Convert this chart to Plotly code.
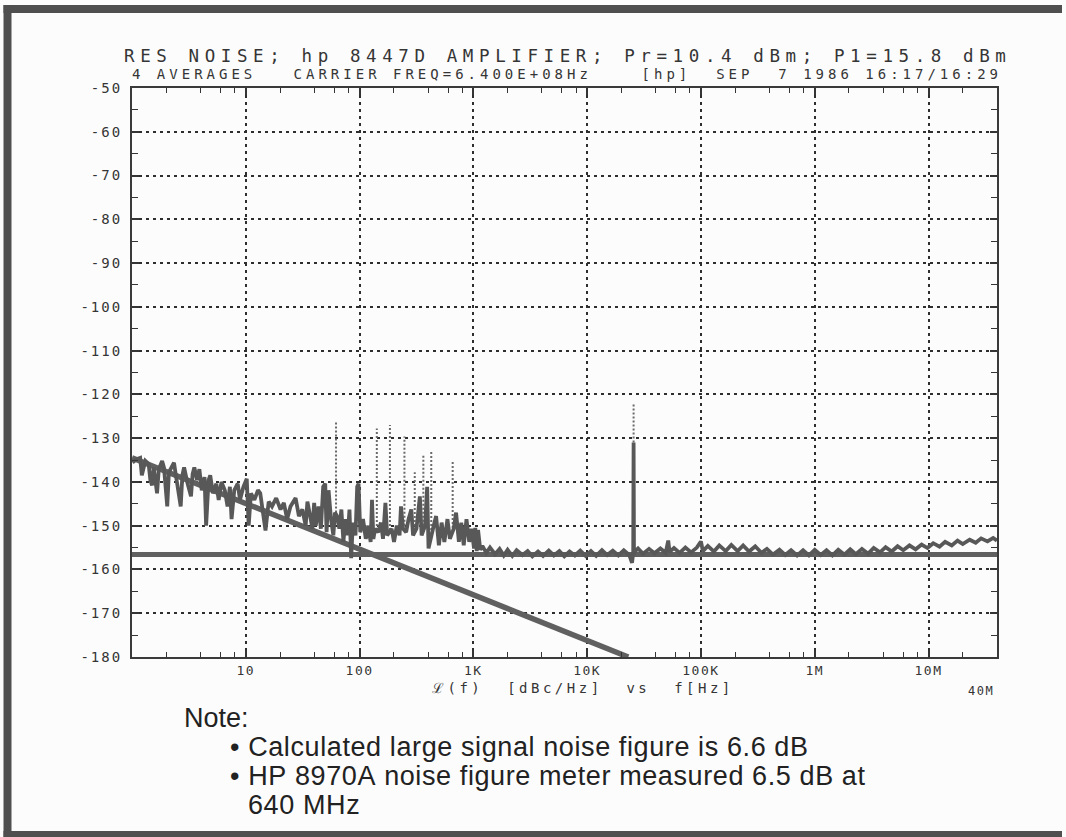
import plotly.graph_objects as go

# ---------------- data ----------------
# measured residual noise trace, L(f) in dBc/Hz vs offset frequency in Hz
noise_freq = [
    1.01, 1.10, 1.18, 1.22, 1.31, 1.40, 1.45, 1.50, 1.55, 1.66, 1.72, 1.84, 1.91, 2.04, 2.11,
    2.26, 2.34, 2.42, 2.59, 2.68, 2.77, 2.87, 3.08, 3.30, 3.41, 3.53, 3.73, 3.91, 4.10, 4.34,
    4.48, 4.71, 4.87, 5.14, 5.51, 5.78, 6.11, 6.54, 6.91, 7.25, 7.50, 7.92, 8.49, 8.90, 9.53,
    10.2, 10.6, 11.1, 11.9, 12.8, 13.4, 14.1, 14.9, 15.9, 17.0, 18.5, 20.2, 21.6, 23.1, 24.7,
    27.4, 29.3, 31.4, 33.6, 34.8, 37.2, 38.5,
    39.9, 41.2, 43.6, 45.7, 47.9, 49.9, 51.3, 53.4, 56.1, 58.8, 60.8, 63.4, 66.4, 69.2, 72.1,
    75.1, 78.8, 81.5, 84.4, 87.3, 92.1, 95.3, 98.0, 101.4, 107.2, 113.4, 119.1, 125.1, 128.6,
    132.2, 136.9, 145.8, 154.1, 160.7, 168.7, 174.7, 191.4, 200.8, 212.4, 224.7, 231.1, 241.1,
    256.6, 269.4, 284.9, 295.1, 316.2, 338.8, 351, 376.5, 392.6, 403.6, 441.8, 470.5, 497.6,
    526, 556, 592, 622, 672, 705, 746, 783, 823, 870, 920, 966, 1014,
    1040, 1070, 1100, 1150, 1200, 1300, 1400, 1550, 1700, 1850, 2000, 2200, 2400, 2700, 3000,
    3300, 3700, 4100, 4600, 5100, 5700, 6300, 7000, 7800, 8700, 9700, 10800, 12000, 13500,
    15000, 16800, 18800, 21000, 23500, 24800, 25400, 25600, 25800, 26500, 28000, 31000, 35000,
    39000, 44000, 49000, 51600, 53000, 58000, 65000, 73000, 82000, 92000, 100000, 104000,
    115000, 130000, 145000, 165000, 185000, 210000, 235000, 265000, 300000, 340000, 380000,
    430000, 490000, 550000, 620000, 700000, 790000, 890000, 1000000, 1130000, 1270000,
    1430000, 1610000, 1820000, 2050000, 2300000, 2600000, 2950000, 3300000, 3750000, 4200000,
    4750000, 5350000, 6000000, 6800000, 7700000, 8700000, 9800000, 11000000, 12500000,
    14000000, 16000000, 18000000, 20000000, 23000000, 26000000, 29000000, 33000000, 37000000,
    40000000,
]
noise_db = [
    -135.6, -134.8, -134.5, -138.5, -135.2, -135.9, -139.6, -140.8, -136.7, -142.6, -137.1, -135.2, -136.7, -145.6, -137.8,
    -136.3, -135.6, -138.2, -142.6, -145.6, -138.5, -136.7, -140.4, -143.3, -138.2, -136.7, -139.6, -137.1, -141.9, -138.9,
    -150.0, -139.6, -138.5, -142.6, -140.4, -144.1, -140.0, -141.9, -145.6, -141.1, -148.5, -141.9, -140.4, -144.1, -141.1,
    -139.3, -150.0, -142.6, -144.1, -141.9, -142.6, -146.3, -151.1, -144.5, -145.6, -143.7, -146.3, -144.8, -148.5, -145.6,
    -143.7, -147.8, -146.3, -150.0, -144.5, -148.5, -150.7,
    -144.8, -150.0, -145.6, -150.7, -141.1, -140.4, -151.5, -141.9, -148.5, -152.2, -147.0, -147.8, -150.7, -146.3, -153.7,
    -148.5, -152.2, -146.3, -157.4, -149.3, -152.2, -141.1, -140.4, -151.5, -148.5, -153.0, -150.0, -153.7, -144.1,
    -153.0, -150.7, -151.5, -149.3, -153.0, -144.8, -152.2, -150.7, -153.7, -150.0, -152.2, -145.6, -150.7,
    -151.5, -148.5, -146.3, -152.2, -150.7, -143.3, -152.2, -150.0, -141.1, -155.2, -150.7, -147.8, -154.5,
    -149.3, -153.7, -148.5, -153.0, -150.7, -147.0, -153.7, -149.3, -154.5, -148.5, -153.7, -150.7, -155.2,
    -150.5, -155.8, -151.0, -155.5, -154.6, -156.2, -155.0, -156.5, -155.3, -156.8, -155.5, -156.9, -155.6, -156.7, -155.8,
    -157.0, -155.9, -156.9, -155.7, -156.8, -155.8, -157.0, -155.9, -156.8, -155.7, -156.9, -155.8, -156.9, -155.6,
    -156.7, -155.7, -156.8, -155.6, -156.7, -158.5, -156.2, -131.0, -156.5, -155.8, -155.2, -156.4, -155.3,
    -156.3, -155.2, -156.2, -153.4, -156.0, -155.1, -156.2, -155.0, -156.1, -155.0, -153.6, -155.8,
    -154.6, -155.9, -154.5, -155.8, -154.4, -155.8, -154.5, -155.9, -154.7, -156.2, -155.3,
    -156.6, -155.5, -156.7, -155.6, -156.8, -155.6, -156.8, -155.5, -156.7, -155.6,
    -156.8, -155.5, -156.6, -155.4, -156.5, -155.3, -156.4, -155.1, -156.1, -154.9,
    -155.9, -154.7, -155.6, -154.5, -155.4, -154.3, -155.1, -154.0, -154.8,
    -153.7, -154.5, -153.4, -154.2, -153.2, -153.9, -152.9, -153.6, -152.8,
    -153.4,
]

# discrete spurs (drawn dotted by the plotter)
spur_freq = [62.1, 141.8, 184.8, 247.9, 305.5, 363.5, 426.6, 658, 25600]
spur_base = [-147.0, -151.0, -151.0, -150.0, -151.0, -150.0, -151.0, -150.5, -131.0]
spur_top = [-126.3, -127.8, -127.0, -129.6, -137.8, -133.7, -133.0, -135.2, -122.0]

# 1/f asymptote and white (thermal) noise floor lines
slope_freq = [1, 23000]
slope_db = [-134.5, -180.0]
floor_freq = [1, 40e6]
floor_db = [-156.6, -156.6]

# axis ticks
ytick_vals = [-50, -60, -70, -80, -90, -100, -110, -120, -130, -140, -150, -160, -170, -180]
ytick_text = ["-50", "-60", "-70", "-80", "-90", "-100", "-110", "-120", "-130", "-140",
              "-150", "-160", "-170", "-180"]
xtick_vals = [10, 100, 1e3, 1e4, 1e5, 1e6, 1e7]
xtick_text = ["10", "100", "1K", "10K", "100K", "1M", "10M"]
minor_mult = [2, 4, 6, 8]

title_line1 = "RES NOISE; hp 8447D AMPLIFIER; Pr=10.4 dBm; P1=15.8 dBm"
title_line2 = "4 AVERAGES   CARRIER FREQ=6.400E+08Hz    [hp]  SEP  7 1986 16:17/16:29"
x_title = "ℒ(f)  [dBc/Hz]  vs  f[Hz]"
note_lines = ["Calculated large signal noise figure is 6.6 dB",
              "HP 8970A noise figure meter measured 6.5 dB at",
              "640 MHz"]

# ---------------- figure ----------------
MONO = "DejaVu Sans Mono"
INK = "#353535"


def spaced(text, px):
    t = text.replace(" ", "\u00a0")
    return f'<span style="letter-spacing:{px}px">{t}</span>'


fig = go.Figure()

fig.add_trace(go.Scatter(x=slope_freq, y=slope_db, mode="lines",
                         line=dict(color="#606060", width=5.5), hoverinfo="skip"))
fig.add_trace(go.Scatter(x=floor_freq, y=floor_db, mode="lines",
                         line=dict(color="#606060", width=5), hoverinfo="skip"))

spx, spy = [], []
for f, b, t in zip(spur_freq, spur_base, spur_top):
    spx += [f, f, None]
    spy += [b, t, None]
fig.add_trace(go.Scatter(x=spx, y=spy, mode="lines",
                         line=dict(color="#6a6a6a", width=2, dash="2px,2px"), hoverinfo="skip"))

fig.add_trace(go.Scatter(x=noise_freq, y=noise_db, mode="lines",
                         line=dict(color="#585858", width=3.8), hoverinfo="skip"))

minor_vals = [m * 10 ** d for d in range(0, 8) for m in minor_mult if m * 10 ** d < 4e7]

fig.update_xaxes(
    type="log", range=[0, 7.602],
    tickmode="array", tickvals=xtick_vals,
    ticktext=[spaced(t, 1.5) for t in xtick_text],
    ticks="inside", ticklen=7, tickwidth=1.5, tickcolor=INK,
    showline=True, linecolor="#3a3a3a", linewidth=2.2, mirror="ticks",
    showgrid=True, gridcolor="#2e2e2e", gridwidth=1.7, griddash="3px,4px",
    zeroline=False, ticklabelstandoff=0,
    tickfont=dict(family=MONO, size=13, color=INK),
    minor=dict(tickmode="array", tickvals=minor_vals, ticks="inside", ticklen=5,
               tickwidth=1.2, tickcolor=INK, showgrid=False),
)
fig.update_yaxes(
    range=[-180, -50],
    tickmode="array", tickvals=ytick_vals,
    ticktext=[spaced(t, 2) for t in ytick_text],
    ticks="inside", ticklen=7, tickwidth=1.5, tickcolor=INK,
    showline=True, linecolor="#3a3a3a", linewidth=2.2, mirror="ticks",
    showgrid=True, gridcolor="#2e2e2e", gridwidth=1.7, griddash="3px,4px",
    zeroline=False, ticklabelstandoff=5,
    tickfont=dict(family=MONO, size=14, color=INK),
    minor=dict(dtick=5, ticks="inside", ticklen=6, tickwidth=1.2, tickcolor=INK, showgrid=False),
)

L, R, T, B = 132, 69, 88, 180
W, H = 1066, 837
PW, PH = W - L - R, H - T - B


def px(x):
    return (x - L) / PW


def py(y):
    return (H - B - y) / PH


ann = []
ann.append(dict(text=spaced(title_line1, 5.6), x=px(567), y=py(56), xanchor="center", yanchor="middle",
                font=dict(family=MONO, size=17.5, color=INK)))
ann.append(dict(text=spaced(title_line2, 4.0), x=px(567), y=py(74), xanchor="center", yanchor="middle",
                font=dict(family=MONO, size=14, color=INK)))
ann.append(dict(text=spaced(x_title, 3.5), x=px(583), y=py(688), xanchor="center", yanchor="middle",
                font=dict(family=MONO, size=14, color=INK)))
ann.append(dict(text=spaced("40M", 1.5), x=px(981), y=py(691), xanchor="center", yanchor="middle",
                font=dict(family=MONO, size=12, color=INK)))
NOTE_FONT = dict(family="Liberation Sans", size=27, color="#222")
ann.append(dict(text="Note:", x=px(182), y=py(718), xanchor="left", yanchor="middle", font=NOTE_FONT))
ann.append(dict(text=spaced("\u2022 " + note_lines[0], 0.6), x=px(228), y=py(747), xanchor="left",
                yanchor="middle", font=NOTE_FONT))
ann.append(dict(text=spaced("\u2022 " + note_lines[1], 0.6), x=px(228), y=py(776), xanchor="left",
                yanchor="middle", font=NOTE_FONT))
ann.append(dict(text=spaced(note_lines[2], 0.6), x=px(246), y=py(805), xanchor="left", yanchor="middle",
                font=NOTE_FONT))
for a in ann:
    a.update(xref="paper", yref="paper", showarrow=False)

FRAME = dict(color="#4f4f4f", width=8)
frame_shapes = [
    dict(type="line", xref="paper", yref="paper", x0=px(3.5), x1=px(1062), y0=py(9), y1=py(9), line=FRAME),
    dict(type="line", xref="paper", yref="paper", x0=px(7.5), x1=px(7.5), y0=py(5), y1=py(837), line=FRAME),
    dict(type="line", xref="paper", yref="paper", x0=px(3.5), x1=px(1062), y0=py(835), y1=py(835), line=FRAME),
]

fig.update_layout(
    width=W, height=H,
    margin=dict(l=L, r=R, t=T, b=B),
    paper_bgcolor="#fcfcfc", plot_bgcolor="#fcfcfc",
    showlegend=False,
    annotations=ann,
    shapes=frame_shapes,
)

fig.write_html("out.html")
